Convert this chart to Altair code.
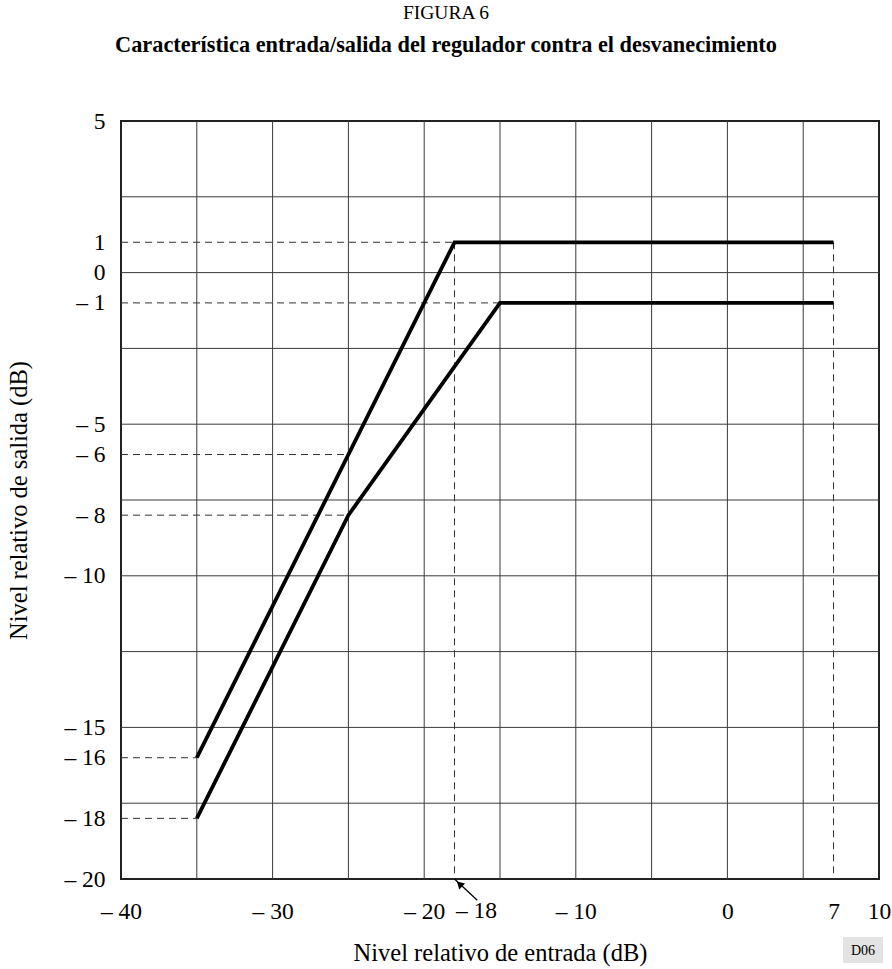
import altair as alt
import pandas as pd

# ---------------- data ----------------
grid_x = [-35, -30, -25, -20, -15, -10, -5, 0, 5]
grid_y = [2.5, 0, -2.5, -5, -7.5, -10, -12.5, -15, -17.5]
x_ticks = [-40, -30, -20, -10, 0, 7, 10]
y_ticks = [5, 1, 0, -1, -5, -6, -8, -10, -15, -16, -18, -20]

upper_x = [-35, -18, 7]
upper_y = [-16, 1, 1]
lower_x = [-35, -25, -15, 7]
lower_y = [-18, -8, -1, -1]

dash_h_y = [1, -1, -6, -8, -16, -18]
dash_h_xend = [-18, -15, -25, -25, -35, -35]
dash_v_x = [-18, 7]
dash_v_ytop = [1, 1]

arrow_x = [-16.5, -18]
arrow_y = [-20.7, -20]
label18_x = [-16.55]
label18_text = ["\u2013 18"]
code_text = ["D06"]

FONT = "Liberation Serif"
W, H = 758, 758
LBL = 23.5
TTL = 24.5

xscale = alt.Scale(domain=[-40, 10], nice=False, zero=False)
yscale = alt.Scale(domain=[-20, 5], nice=False, zero=False)

xaxis = alt.Axis(
    values=x_ticks,
    labelExpr="datum.value < 0 ? '\u2013 ' + abs(datum.value) : '' + datum.value",
    ticks=False, domain=False, grid=False,
    labelFont=FONT, labelFontSize=LBL, labelColor="black", labelPadding=20,
    labelOverlap=False, labelFlush=False,
    title="Nivel relativo de entrada (dB)", titleFont=FONT, titleFontSize=TTL,
    titleFontWeight="normal", titleColor="black", titlePadding=19,
)
yaxis = alt.Axis(
    values=y_ticks,
    labelExpr="datum.value < 0 ? '\u2013 ' + abs(datum.value) : '' + datum.value",
    ticks=False, domain=False, grid=False,
    labelFont=FONT, labelFontSize=LBL, labelColor="black", labelPadding=16,
    labelOverlap=False, labelFlush=False,
    title="Nivel relativo de salida (dB)", titleFont=FONT, titleFontSize=TTL,
    titleFontWeight="normal", titleColor="black", titlePadding=32,
)

def X(field="x"):
    return alt.X(f"{field}:Q", scale=xscale, axis=xaxis)

def Y(field="y"):
    return alt.Y(f"{field}:Q", scale=yscale, axis=yaxis)

# ---------------- layers ----------------
gx_df = pd.DataFrame({"x": grid_x})
gy_df = pd.DataFrame({"y": grid_y})

grid_v = alt.Chart(gx_df).mark_rule(color="#3a3a3a", strokeWidth=1).encode(x=X())
grid_h = alt.Chart(gy_df).mark_rule(color="#3a3a3a", strokeWidth=1).encode(y=Y())

dh_df = pd.DataFrame({"x": [-40] * len(dash_h_y), "x2": dash_h_xend, "y": dash_h_y})
dash_h = alt.Chart(dh_df).mark_rule(color="#333", strokeWidth=1, strokeDash=[7, 5]).encode(
    x=X(), x2="x2:Q", y=Y()
)
dv_df = pd.DataFrame({"x": dash_v_x, "y": dash_v_ytop, "y2": [-20] * len(dash_v_x)})
dash_v = alt.Chart(dv_df).mark_rule(color="#333", strokeWidth=1, strokeDash=[7, 5]).encode(
    x=X(), y=Y(), y2="y2:Q"
)

lines_df = pd.DataFrame({
    "x": upper_x + lower_x,
    "y": upper_y + lower_y,
    "serie": ["sup"] * len(upper_x) + ["inf"] * len(lower_x),
    "orden": list(range(len(upper_x))) + list(range(len(lower_x))),
})
lines = alt.Chart(lines_df).mark_line(color="black", strokeWidth=3.8, strokeJoin="miter").encode(
    x=X(), y=Y(), detail="serie:N", order="orden:Q"
)

arrow_df = pd.DataFrame({"x": [arrow_x[0]], "y": [arrow_y[0]], "x2": [arrow_x[1]], "y2": [arrow_y[1]]})
arrow_line = alt.Chart(arrow_df).mark_rule(color="black", strokeWidth=1.3).encode(
    x=X(), y=Y(), x2="x2:Q", y2="y2:Q"
)
head_df = pd.DataFrame({"x": [arrow_x[1]], "y": [arrow_y[1]]})
arrow_head = alt.Chart(head_df).mark_point(
    shape="triangle-up", filled=True, color="black", size=70, angle=314, opacity=1,
    yOffset=5, xOffset=5
).encode(x=X(), y=Y())

l18_df = pd.DataFrame({"x": label18_x, "t": label18_text})
label18 = alt.Chart(l18_df).mark_text(
    font=FONT, fontSize=LBL, color="black", baseline="top", align="center"
).encode(x=X(), y=alt.value(H + 20), text="t:N")

code_df = pd.DataFrame({"t": code_text})
code_box = alt.Chart(code_df).mark_rect(color="#e3e3e3").encode(
    x=alt.value(722), x2=alt.value(762), y=alt.value(816), y2=alt.value(842)
)
code_lbl = alt.Chart(code_df).mark_text(
    font=FONT, fontSize=14, color="black", baseline="middle", align="center"
).encode(x=alt.value(742), y=alt.value(830), text="t:N")

chart = alt.layer(
    grid_v, grid_h, dash_h, dash_v, lines, arrow_line, arrow_head, label18, code_box, code_lbl
).properties(
    width=W, height=H,
    autosize=alt.AutoSizeParams(type="none"),
    padding={"left": 121, "top": 121, "right": 13, "bottom": 90},
    title=alt.TitleParams(
        text="FIGURA 6",
        subtitle="Característica entrada/salida del regulador contra el desvanecimiento",
        font=FONT, fontSize=19.5, fontWeight="normal", color="black",
        subtitleFont=FONT, subtitleFontSize=22.3, subtitleFontWeight="bold",
        subtitleColor="black", subtitlePadding=10, anchor="middle", offset=52, dx=-54,
    ),
    background="white",
).configure_view(stroke="#222", strokeWidth=2)

chart.save("out.html", embed_options={"renderer": "svg", "actions": False})
